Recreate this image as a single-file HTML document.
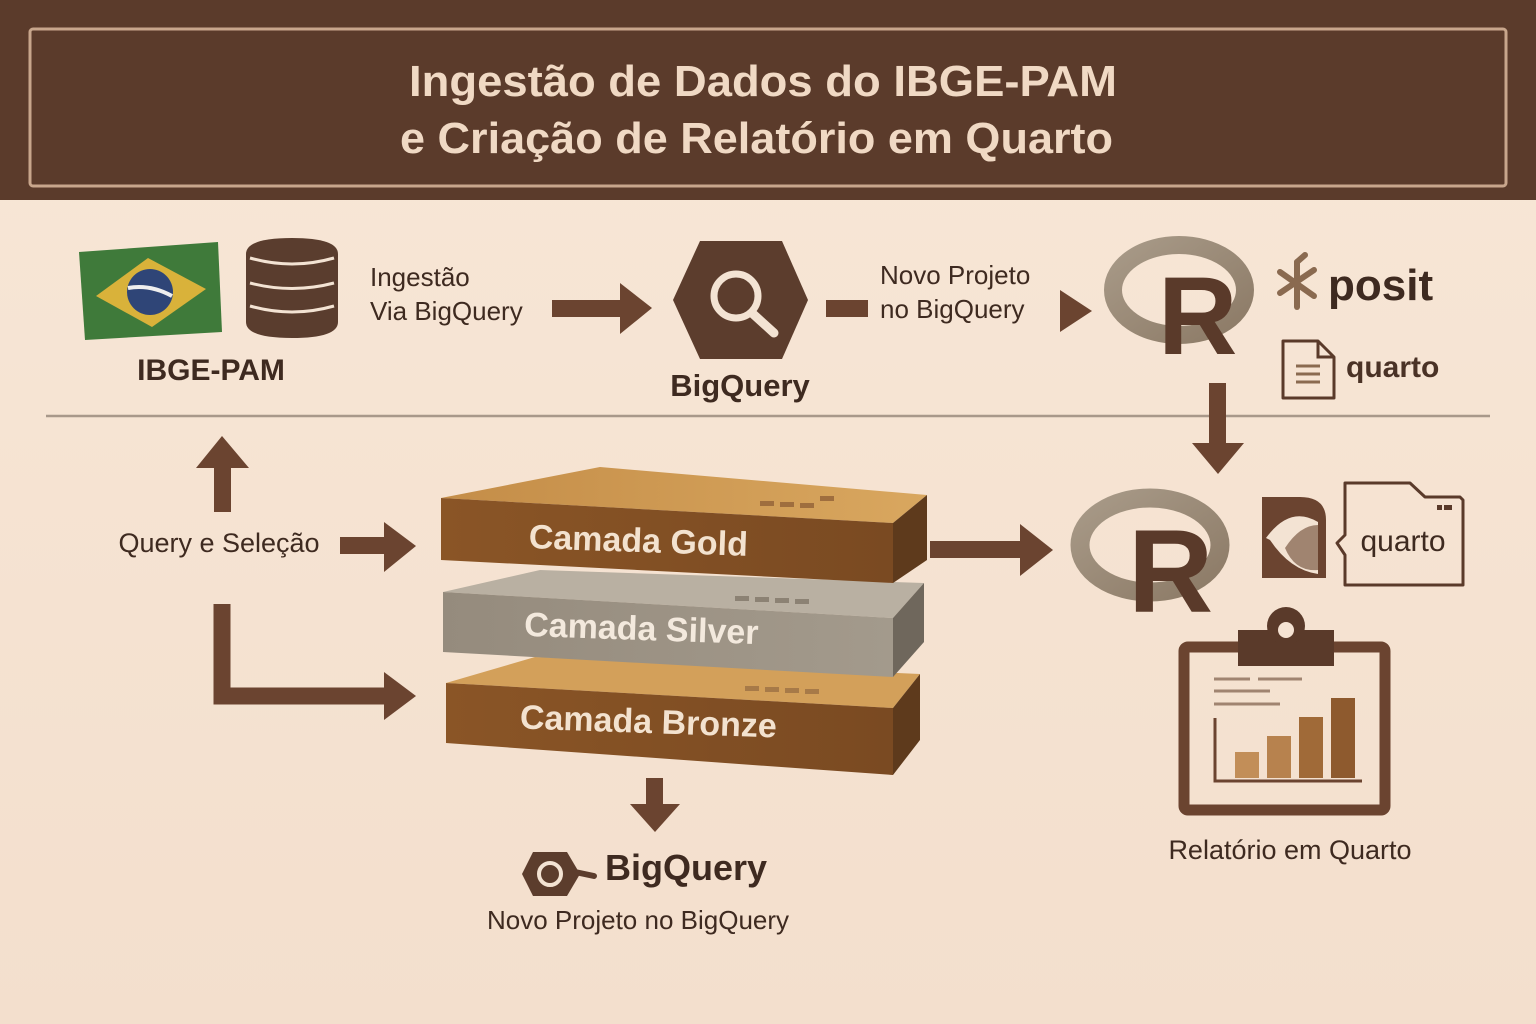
<!DOCTYPE html>
<html><head><meta charset="utf-8"><style>
html,body{margin:0;padding:0;width:1536px;height:1024px;overflow:hidden;background:#f5e3d3}
svg{display:block}
text{font-family:"Liberation Sans","DejaVu Sans",sans-serif}
</style></head><body>
<svg width="1536" height="1024" viewBox="0 0 1536 1024" xmlns="http://www.w3.org/2000/svg">
<defs>
<linearGradient id="bg" x1="0" y1="0" x2="0" y2="1"><stop offset="0" stop-color="#f8e7d7"/><stop offset="1" stop-color="#f3dfcd"/></linearGradient>
<linearGradient id="goldTop" x1="0" y1="0" x2="1" y2="0"><stop offset="0" stop-color="#c48d48"/><stop offset="1" stop-color="#d9a75f"/></linearGradient>
<linearGradient id="goldFront" x1="0" y1="0" x2="1" y2="0"><stop offset="0" stop-color="#8a5526"/><stop offset="1" stop-color="#7a4a22"/></linearGradient>
<linearGradient id="silFront" x1="0" y1="0" x2="1" y2="0"><stop offset="0" stop-color="#958b7d"/><stop offset="1" stop-color="#a39a8c"/></linearGradient>
<linearGradient id="rg" x1="0" y1="0" x2="1" y2="1"><stop offset="0" stop-color="#a89a88"/><stop offset="1" stop-color="#8c7a66"/></linearGradient>
</defs>
<rect width="1536" height="1024" fill="url(#bg)"/>
<rect x="0" y="0" width="1536" height="200" fill="#5b3b2b"/>
<rect x="30" y="29" width="1476" height="157" fill="none" stroke="#c8a68c" stroke-width="3" rx="3"/>
<text x="409" y="96" font-size="44" font-weight="bold" fill="#f0d9c4" textLength="708" lengthAdjust="spacingAndGlyphs">Ingestão de Dados do IBGE-PAM</text>
<text x="400" y="153" font-size="44" font-weight="bold" fill="#f0d9c4" textLength="713" lengthAdjust="spacingAndGlyphs">e Criação de Relatório em Quarto</text>

<polygon points="79,252 218,242 222,332 85,340" fill="#3f7a3a"/>
<polygon points="96,296 148,258 206,289 152,327" fill="#d9b23a"/>
<circle cx="150" cy="292" r="23" fill="#2f4577"/>
<path d="M128,288 Q150,284 172,296" stroke="#eee" stroke-width="4" fill="none"/>
<path d="M246,254 Q246,238 292,238 Q338,238 338,254 L338,322 Q338,338 292,338 Q246,338 246,322 Z" fill="#5a3d2e"/>
<path d="M250,258 Q292,270 334,258" stroke="#f3e3d3" stroke-width="3" fill="none"/>
<path d="M250,283 Q292,294 334,283" stroke="#f3e3d3" stroke-width="3" fill="none"/>
<path d="M250,306 Q292,318 334,306" stroke="#f3e3d3" stroke-width="3" fill="none"/>
<text x="211" y="380" text-anchor="middle" font-size="30" font-weight="bold" fill="#3e2a20">IBGE-PAM</text>

<text x="370" y="286" font-size="26" fill="#3e2a20">Ingestão</text>
<text x="370" y="320" font-size="26" fill="#3e2a20">Via BigQuery</text>
<rect x="552" y="300" width="70" height="17" fill="#6b4430"/>
<polygon points="620,283 652,308 620,334" fill="#6b4430"/>

<polygon points="700,241 782,241 808,300 782,359 700,359 673,300" fill="#5c3d2d"/>
<circle cx="736" cy="296" r="22" fill="none" stroke="#f3e3d3" stroke-width="7"/>
<line x1="752" y1="313" x2="774" y2="333" stroke="#f3e3d3" stroke-width="9" stroke-linecap="round"/>
<text x="740" y="396" text-anchor="middle" font-size="31" font-weight="bold" fill="#3e2a20">BigQuery</text>

<rect x="826" y="300" width="42" height="17" fill="#6b4430"/>
<text x="880" y="284" font-size="26" fill="#3e2a20">Novo Projeto</text>
<text x="880" y="318" font-size="26" fill="#3e2a20">no BigQuery</text>
<polygon points="1060,290 1092,311 1060,332" fill="#6b4430"/>

<ellipse cx="1179" cy="290" rx="66" ry="45" fill="none" stroke="url(#rg)" stroke-width="18"/>
<text x="1158" y="354" font-size="110" font-weight="bold" fill="#5a3a2a">R</text>
<g stroke="#8a6a50" stroke-width="6" stroke-linecap="round">
<line x1="1297" y1="262" x2="1297" y2="307"/><line x1="1280" y1="272" x2="1314" y2="296"/><line x1="1280" y1="293" x2="1314" y2="270"/><line x1="1297" y1="262" x2="1305" y2="255"/>
</g>
<text x="1328" y="300" font-size="44" font-weight="bold" fill="#3e2a20">posit</text>
<path d="M1283,341 L1318,341 L1334,357 L1334,398 L1283,398 Z" fill="none" stroke="#5a3a2a" stroke-width="3" stroke-linejoin="round"/>
<path d="M1318,341 L1318,357 L1334,357" fill="none" stroke="#5a3a2a" stroke-width="3"/>
<g stroke="#8a6a50" stroke-width="3"><line x1="1296" y1="366" x2="1320" y2="366"/><line x1="1296" y1="374" x2="1320" y2="374"/><line x1="1296" y1="382" x2="1320" y2="382"/></g>
<text x="1346" y="377" font-size="30" font-weight="bold" fill="#4a3226">quarto</text>

<line x1="46" y1="416" x2="1490" y2="416" stroke="#a8988a" stroke-width="2.5"/>

<rect x="1209" y="383" width="17" height="60" fill="#6b4430"/>
<polygon points="1192,443 1244,443 1218,474" fill="#6b4430"/>

<rect x="214" y="464" width="17" height="48" fill="#6b4430"/>
<polygon points="196,468 222,436 249,468" fill="#6b4430"/>
<text x="219" y="552" text-anchor="middle" font-size="27" fill="#3e2a20">Query e Seleção</text>
<rect x="340" y="537" width="47" height="17" fill="#6b4430"/>
<polygon points="384,522 416,546 384,572" fill="#6b4430"/>
<path d="M222,604 L222,696 L388,696" fill="none" stroke="#6b4430" stroke-width="17"/>
<polygon points="384,672 416,696 384,720" fill="#6b4430"/>

<polygon points="446,683 535,657 920,674 893,708" fill="#d3a05a"/>
<polygon points="446,683 893,708 893,775 446,743" fill="url(#goldFront)"/>
<polygon points="893,708 920,674 920,740 893,775" fill="#5e3a1c"/>
<text x="648" y="733" text-anchor="middle" font-size="34" font-weight="bold" fill="#f3e2cf" transform="rotate(2 648 733)">Camada Bronze</text>
<g fill="#a77a48"><rect x="745" y="686" width="14" height="5"/><rect x="765" y="687" width="14" height="5"/><rect x="785" y="688" width="14" height="5"/><rect x="805" y="689" width="14" height="5"/></g>
<polygon points="443,592 540,570 924,583 893,618" fill="#b9b0a2"/>
<polygon points="443,592 893,618 893,677 443,652" fill="url(#silFront)"/>
<polygon points="893,618 924,583 924,642 893,677" fill="#6f675c"/>
<text x="641" y="640" text-anchor="middle" font-size="34" font-weight="bold" fill="#f3e9dd" transform="rotate(2 641 640)">Camada Silver</text>
<g fill="#8c8274"><rect x="735" y="596" width="14" height="5"/><rect x="755" y="597" width="14" height="5"/><rect x="775" y="598" width="14" height="5"/><rect x="795" y="599" width="14" height="5"/></g>
<polygon points="441,498 600,467 927,495 893,523" fill="url(#goldTop)"/>
<polygon points="441,498 893,523 893,583 441,560" fill="url(#goldFront)"/>
<polygon points="893,523 927,495 927,560 893,583" fill="#5e3a1c"/>
<text x="638" y="552" text-anchor="middle" font-size="34" font-weight="bold" fill="#f3e2cf" transform="rotate(2 638 552)">Camada Gold</text>
<g fill="#9f6e3e"><rect x="760" y="501" width="14" height="5"/><rect x="780" y="502" width="14" height="5"/><rect x="800" y="503" width="14" height="5"/><rect x="820" y="496" width="14" height="5"/></g>

<rect x="930" y="541" width="95" height="17" fill="#6b4430"/>
<polygon points="1020,524 1053,550 1020,576" fill="#6b4430"/>

<rect x="646" y="778" width="17" height="28" fill="#6b4430"/>
<polygon points="630,804 680,804 655,832" fill="#6b4430"/>
<polygon points="533,852 567,852 580,874 567,896 533,896 522,874" fill="#5c3d2d"/>
<circle cx="550" cy="874" r="11" fill="none" stroke="#f3e3d3" stroke-width="4"/>
<line x1="575" y1="872" x2="594" y2="876" stroke="#5c3d2d" stroke-width="6" stroke-linecap="round"/>
<text x="605" y="880" font-size="36" font-weight="bold" fill="#3e2a20">BigQuery</text>
<text x="638" y="929" text-anchor="middle" font-size="26" fill="#3e2a20">Novo Projeto no BigQuery</text>

<ellipse cx="1150" cy="545" rx="70" ry="47" fill="none" stroke="url(#rg)" stroke-width="19"/>
<text x="1128" y="612" font-size="118" font-weight="bold" fill="#5a3a2a">R</text>
<path d="M1262,497 L1300,497 Q1326,497 1326,520 L1326,578 L1262,578 Z" fill="#6b4430"/>
<path d="M1266,538 Q1290,505 1318,522 L1318,574 Q1290,570 1270,540 Z" fill="#f3e3d3"/>
<path d="M1285,548 Q1300,525 1318,525 L1318,570 Q1295,572 1285,548 Z" fill="#a08470"/>
<path d="M1345,483 L1410,483 L1425,497 L1460,497 L1463,500 L1463,585 L1345,585 L1345,555 L1337,543 L1345,535 Z" fill="none" stroke="#5a3a2a" stroke-width="3" stroke-linejoin="round"/>
<text x="1403" y="551" text-anchor="middle" font-size="30" fill="#3e2a20">quarto</text>
<g fill="#5a3a2a"><rect x="1437" y="505" width="5" height="5"/><rect x="1444" y="505" width="8" height="5"/></g>

<rect x="1184" y="647" width="201" height="163" rx="4" fill="none" stroke="#6b4430" stroke-width="11"/>
<rect x="1238" y="630" width="96" height="36" fill="#5a3a2a"/>
<circle cx="1286" cy="626" r="19" fill="#5a3a2a"/>
<circle cx="1286" cy="630" r="8" fill="#f5e3d3"/>
<g stroke="#a08470" stroke-width="3"><line x1="1214" y1="679" x2="1250" y2="679"/><line x1="1258" y1="679" x2="1302" y2="679"/><line x1="1214" y1="691" x2="1270" y2="691"/><line x1="1214" y1="704" x2="1280" y2="704"/></g>
<path d="M1215,718 L1215,781 L1362,781" fill="none" stroke="#6b4430" stroke-width="3"/>
<rect x="1235" y="752" width="24" height="26" fill="#c28e58"/>
<rect x="1267" y="736" width="24" height="42" fill="#b7824e"/>
<rect x="1299" y="717" width="24" height="61" fill="#a06a38"/>
<rect x="1331" y="698" width="24" height="80" fill="#8e5a2e"/>
<text x="1290" y="859" text-anchor="middle" font-size="27" fill="#3e2a20">Relatório em Quarto</text>
</svg>
</body></html>
